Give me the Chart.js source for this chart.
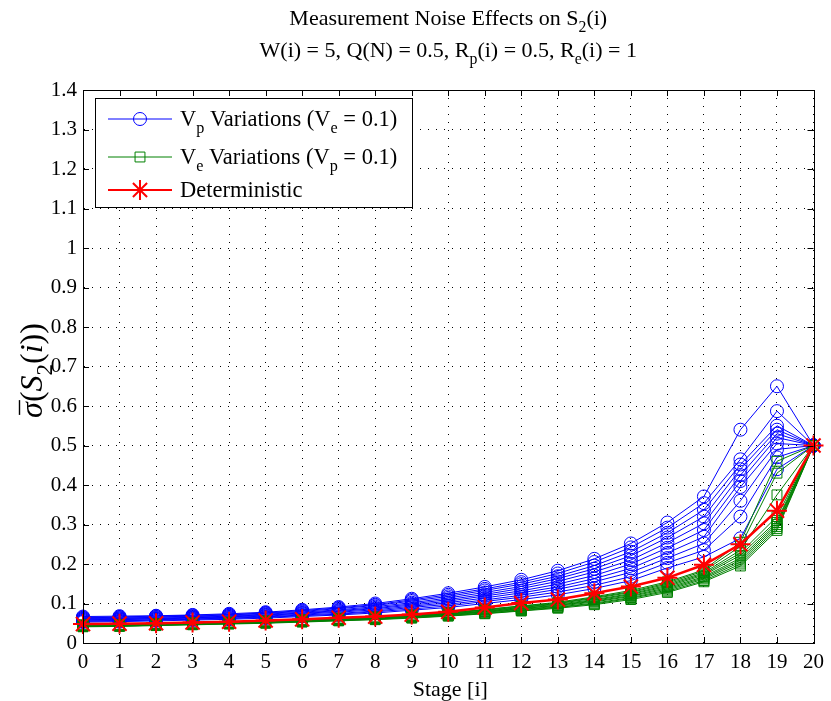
<!DOCTYPE html>
<html>
<head>
<meta charset="utf-8">
<script src="https://cdn.jsdelivr.net/npm/chart.js@4.4.1/dist/chart.umd.min.js"></script>
<style>
  html, body { margin: 0; padding: 0; background: #fff; }
  #wrap { width: 831px; height: 701px; }
</style>
</head>
<body>
<div id="wrap"><canvas id="noiseChart" width="831" height="701"></canvas></div>
<script>
// stages and tick labels
const stages = ['0','1','2','3','4','5','6','7','8','9','10','11','12','13','14','15','16','17','18','19','20'];
const yTickLabels = ['0','0.1','0.2','0.3','0.4','0.5','0.6','0.7','0.8','0.9','1','1.1','1.2','1.3','1.4'];

// deterministic run
const deterministic = [0.048,0.049,0.050,0.052,0.054,0.057,0.060,0.064,0.067,0.072,0.079,0.090,0.101,0.110,0.126,0.143,0.165,0.198,0.250,0.335,0.5];

// Vp variations (Ve = 0.1), top to bottom
const vp1  = [0.067,0.068,0.069,0.071,0.074,0.078,0.084,0.091,0.100,0.112,0.126,0.142,0.160,0.183,0.213,0.252,0.305,0.371,0.540,0.650,0.5];
const vp2  = [0.065,0.066,0.068,0.070,0.072,0.076,0.082,0.089,0.097,0.109,0.122,0.137,0.154,0.176,0.205,0.242,0.292,0.354,0.465,0.587,0.5];
const vp3  = [0.064,0.065,0.066,0.068,0.071,0.075,0.080,0.087,0.095,0.106,0.118,0.133,0.149,0.169,0.196,0.231,0.279,0.337,0.452,0.550,0.5];
const vp4  = [0.062,0.063,0.065,0.067,0.069,0.073,0.078,0.084,0.092,0.102,0.114,0.128,0.143,0.163,0.188,0.221,0.267,0.320,0.440,0.540,0.5];
const vp5  = [0.061,0.062,0.063,0.065,0.068,0.071,0.076,0.082,0.089,0.099,0.110,0.123,0.138,0.156,0.180,0.210,0.254,0.303,0.425,0.530,0.5];
const vp6  = [0.059,0.060,0.062,0.064,0.066,0.070,0.075,0.080,0.087,0.096,0.106,0.119,0.132,0.149,0.171,0.200,0.241,0.286,0.410,0.520,0.5];
const vp7  = [0.058,0.059,0.061,0.063,0.065,0.068,0.073,0.078,0.084,0.093,0.102,0.114,0.127,0.142,0.163,0.189,0.228,0.269,0.395,0.505,0.5];
const vp8  = [0.056,0.057,0.059,0.061,0.063,0.066,0.071,0.075,0.081,0.090,0.098,0.109,0.121,0.136,0.155,0.179,0.215,0.252,0.360,0.490,0.5];
const vp9  = [0.055,0.056,0.058,0.060,0.062,0.065,0.069,0.073,0.079,0.086,0.094,0.105,0.116,0.129,0.146,0.168,0.203,0.235,0.320,0.470,0.5];
const vp10 = [0.053,0.054,0.056,0.058,0.060,0.063,0.067,0.071,0.076,0.083,0.090,0.100,0.110,0.122,0.138,0.158,0.190,0.218,0.265,0.440,0.5];

// Ve variations (Vp = 0.1), top to bottom
const ve1  = [0.046,0.047,0.049,0.051,0.053,0.056,0.059,0.063,0.066,0.071,0.077,0.085,0.094,0.103,0.117,0.133,0.155,0.185,0.255,0.460,0.5];
const ve2  = [0.045,0.046,0.048,0.050,0.052,0.055,0.058,0.062,0.065,0.070,0.076,0.084,0.093,0.101,0.115,0.130,0.152,0.182,0.245,0.430,0.5];
const ve3  = [0.045,0.046,0.048,0.050,0.052,0.055,0.058,0.061,0.064,0.069,0.075,0.083,0.091,0.100,0.113,0.128,0.149,0.178,0.235,0.375,0.5];
const ve4  = [0.044,0.045,0.047,0.049,0.051,0.054,0.057,0.061,0.064,0.068,0.074,0.081,0.090,0.098,0.110,0.125,0.146,0.175,0.228,0.320,0.5];
const ve5  = [0.044,0.045,0.047,0.049,0.051,0.053,0.056,0.060,0.063,0.067,0.073,0.080,0.088,0.096,0.108,0.123,0.143,0.172,0.222,0.310,0.5];
const ve6  = [0.043,0.044,0.046,0.048,0.050,0.053,0.056,0.059,0.062,0.067,0.072,0.079,0.087,0.095,0.106,0.120,0.140,0.168,0.215,0.305,0.5];
const ve7  = [0.043,0.044,0.046,0.048,0.050,0.052,0.055,0.058,0.061,0.066,0.071,0.078,0.085,0.093,0.104,0.118,0.137,0.165,0.210,0.300,0.5];
const ve8  = [0.042,0.043,0.045,0.047,0.049,0.051,0.054,0.058,0.061,0.065,0.070,0.076,0.084,0.091,0.101,0.115,0.134,0.162,0.205,0.295,0.5];
const ve9  = [0.042,0.043,0.045,0.047,0.049,0.051,0.054,0.057,0.060,0.064,0.069,0.075,0.082,0.090,0.099,0.113,0.131,0.158,0.200,0.290,0.5];
const ve10 = [0.041,0.042,0.044,0.046,0.048,0.050,0.053,0.056,0.059,0.063,0.068,0.074,0.081,0.088,0.097,0.110,0.128,0.155,0.195,0.285,0.5];

const vpRuns = [vp1, vp2, vp3, vp4, vp5, vp6, vp7, vp8, vp9, vp10];
const veRuns = [ve1, ve2, ve3, ve4, ve5, ve6, ve7, ve8, ve9, ve10];

const BLUE = '#0000ff', GREEN = '#008000', RED = '#ff0000';
const SERIF = '"Liberation Serif", "Times New Roman", serif';

// text with subscripts / italics: parts = [[text, 'sub'|'it'|undefined], ...]
function partFont(p, size) {
  if (p[1] === 'sub') return (size * 0.72).toFixed(1) + 'px ' + SERIF;
  if (p[1] === 'it') return 'italic ' + size + 'px ' + SERIF;
  return size + 'px ' + SERIF;
}
function richText(ctx, parts, x, y, size, align) {
  let total = 0;
  parts.forEach(p => { ctx.font = partFont(p, size); total += ctx.measureText(p[0]).width; });
  let cx = align === 'center' ? x - total / 2 : x;
  const spots = [];
  parts.forEach(p => {
    ctx.font = partFont(p, size);
    ctx.fillText(p[0], cx, p[1] === 'sub' ? y + size * 0.3 : y);
    const w = ctx.measureText(p[0]).width;
    spots.push([cx, w]);
    cx += w;
  });
  return spots;
}

function drawMarker(ctx, style, x, y, r) {
  ctx.beginPath();
  if (style === 'circle') {
    ctx.arc(x, y, r, 0, Math.PI * 2);
  } else if (style === 'rect') {
    const s = r * Math.SQRT1_2;
    ctx.rect(x - s, y - s, 2 * s, 2 * s);
  } else {
    const d = r * Math.SQRT1_2;
    ctx.moveTo(x - r, y); ctx.lineTo(x + r, y);
    ctx.moveTo(x, y - r); ctx.lineTo(x, y + r);
    ctx.moveTo(x - d, y - d); ctx.lineTo(x + d, y + d);
    ctx.moveTo(x - d, y + d); ctx.lineTo(x + d, y - d);
  }
  ctx.stroke();
}

const legendItems = [
  { color: BLUE, style: 'circle', r: 6.5, lw: 1, width: 1,
    parts: [['V'], ['p', 'sub'], [' Variations (V'], ['e', 'sub'], [' = 0.1)']] },
  { color: GREEN, style: 'rect', r: 7, lw: 1, width: 1,
    parts: [['V'], ['e', 'sub'], [' Variations (V'], ['p', 'sub'], [' = 0.1)']] },
  { color: RED, style: 'star', r: 10, lw: 2, width: 2,
    parts: [['Deterministic']] }
];

const matlabLook = {
  id: 'matlabLook',
  afterDraw(chart) {
    const ctx = chart.ctx;
    const a = chart.chartArea;
    const xs = chart.scales.x, ys = chart.scales.y;
    ctx.save();
    ctx.strokeStyle = '#000';
    ctx.lineWidth = 1;
    // inward ticks
    ctx.beginPath();
    ys.ticks.forEach((t, i) => {
      const py = Math.round(ys.getPixelForTick(i)) + 0.5;
      ctx.moveTo(a.left, py); ctx.lineTo(a.left + 6, py);
      ctx.moveTo(a.right, py); ctx.lineTo(a.right - 6, py);
    });
    xs.ticks.forEach((t, i) => {
      const px = Math.round(xs.getPixelForTick(i)) + 0.5;
      ctx.moveTo(px, a.bottom); ctx.lineTo(px, a.bottom - 6);
      ctx.moveTo(px, a.top); ctx.lineTo(px, a.top + 6);
    });
    ctx.stroke();
    // axes box
    ctx.strokeRect(Math.round(a.left) + 0.5, Math.round(a.top) + 0.5,
                   Math.round(a.right - a.left), Math.round(a.bottom - a.top));

    // legend
    const lx = 95, ly = 98, lw = 317, lh = 109;
    ctx.fillStyle = '#fff';
    ctx.fillRect(lx, ly, lw, lh);
    ctx.strokeRect(lx + 0.5, ly + 0.5, lw, lh);
    const rowY = [119, 157, 190];
    legendItems.forEach((it, i) => {
      const y = rowY[i];
      ctx.strokeStyle = it.color;
      ctx.lineWidth = it.width;
      ctx.beginPath(); ctx.moveTo(108, y); ctx.lineTo(172, y); ctx.stroke();
      ctx.lineWidth = it.lw;
      drawMarker(ctx, it.style, 140, y, it.r);
      ctx.fillStyle = '#000';
      ctx.textBaseline = 'alphabetic';
      richText(ctx, it.parts, 180, y + 7, 22.5, 'left');
    });

    // titles
    const cx = (a.left + a.right) / 2;
    ctx.fillStyle = '#000';
    richText(ctx, [['Measurement Noise Effects on S'], ['2', 'sub'], ['(i)']], cx, 25, 22, 'center');
    richText(ctx, [['W(i) = 5, Q(N) = 0.5, R'], ['p', 'sub'], ['(i) = 0.5, R'], ['e', 'sub'], ['(i) = 1']], cx, 57, 22, 'center');
    richText(ctx, [['Stage [i]']], cx + 2, 696, 22, 'center');

    // y axis label, rotated
    ctx.translate(32, (a.top + a.bottom) / 2 + 4);
    ctx.rotate(-Math.PI / 2);
    const spots = richText(ctx, [['\u03c3', 'it'], ['('], ['S', 'it'], ['2', 'sub'], ['('], ['i', 'it'], ['))']], 0, 10, 32, 'center');
    ctx.strokeStyle = '#000';
    ctx.lineWidth = 1.4;
    ctx.beginPath();
    ctx.moveTo(spots[0][0] + 3, -12.5);
    ctx.lineTo(spots[0][0] + spots[0][1] + 2, -12.5);
    ctx.stroke();
    ctx.restore();
  }
};

const datasets = [];
datasets.push({
  label: 'Deterministic', data: deterministic, order: 0,
  borderColor: RED, borderWidth: 2.5, pointStyle: 'star', pointRadius: 10,
  pointBorderColor: RED, pointBorderWidth: 2, pointBackgroundColor: 'transparent'
});
veRuns.forEach((run, i) => datasets.push({
  label: 'Ve run ' + (i + 1), data: run, order: 1,
  borderColor: GREEN, borderWidth: 1, pointStyle: 'rect', pointRadius: 7,
  pointBorderColor: GREEN, pointBorderWidth: 1, pointBackgroundColor: 'transparent'
}));
vpRuns.forEach((run, i) => datasets.push({
  label: 'Vp run ' + (i + 1), data: run, order: 2,
  borderColor: BLUE, borderWidth: 1, pointStyle: 'circle', pointRadius: 6.5,
  pointBorderColor: BLUE, pointBorderWidth: 1, pointBackgroundColor: 'transparent'
}));
datasets.forEach(d => { d.tension = 0; d.clip = false; d.fill = false; d.pointHoverRadius = d.pointRadius; });

const ctx = document.getElementById('noiseChart').getContext('2d');
const noiseChart = new Chart(ctx, {
  type: 'line',
  data: { labels: stages, datasets: datasets },
  options: {
    responsive: false,
    animation: false,
    events: [],
    layout: { padding: { left: 0, right: 8, top: 90, bottom: 0 } },
    plugins: { legend: { display: false }, title: { display: false }, tooltip: { enabled: false } },
    scales: {
      x: {
        type: 'category',
        grid: { color: '#000', lineWidth: 1, drawTicks: false, offset: false },
        border: { display: true, color: '#000', dash: [1, 7] },
        ticks: { color: '#000', font: { family: SERIF, size: 21 }, padding: 7, autoSkip: false, maxRotation: 0 },
        afterFit(s) { s.height = 58; }
      },
      y: {
        min: 0, max: 1.4,
        grid: { color: '#000', lineWidth: 1, drawTicks: false },
        border: { display: true, color: '#000', dash: [1, 7] },
        ticks: { stepSize: 0.1, color: '#000', font: { family: SERIF, size: 21 }, padding: 6,
                 callback: (v, i) => yTickLabels[i] },
        afterFit(s) { s.width = 83; }
      }
    }
  },
  plugins: [matlabLook]
});
</script>
</body>
</html>
